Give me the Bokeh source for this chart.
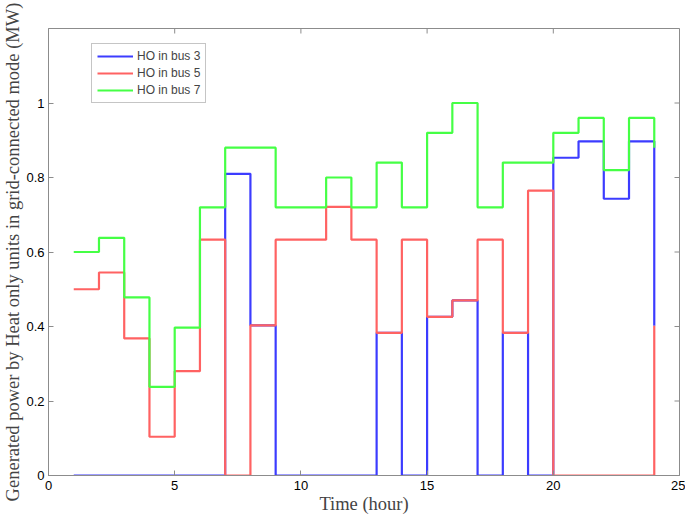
import math
from bokeh.plotting import figure
from bokeh.models import Range1d, FixedTicker, Legend, LegendItem
from bokeh.embed import file_html
from bokeh.resources import INLINE

hours = list(range(1, 25))
bus3 = [0, 0, 0, 0, 0, 0, 0.81, 0.403, 0, 0, 0, 0, 0.383, 0, 0.426, 0.47,
        0, 0.383, 0, 0.853, 0.897, 0.743, 0.897, 0.402]
bus5 = [0.5, 0.545, 0.368, 0.104, 0.28, 0.633, 0, 0.403, 0.633, 0.633, 0.721, 0.633,
        0.383, 0.633, 0.426, 0.47, 0.633, 0.383, 0.765, 0, 0, 0, 0, 0.402]
bus7 = [0.6, 0.638, 0.478, 0.238, 0.397, 0.72, 0.88, 0.88, 0.72, 0.72, 0.8, 0.72,
        0.84, 0.72, 0.92, 1.0, 0.72, 0.84, 0.84, 0.92, 0.96, 0.82, 0.96, 0.88]
series_names = ["HO in bus 3", "HO in bus 5", "HO in bus 7"]

x_ticks = [0, 5, 10, 15, 20, 25]
x_tick_labels = ["0", "5", "10", "15", "20", "25"]
y_ticks = [0, 0.2, 0.4, 0.6, 0.8, 1]
y_tick_labels = ["0", "0.2", "0.4", "0.6", "0.8", "1"]

SANS = "Liberation Sans"
SERIF = "Liberation Serif"
AX_COLOR = "#8c8c8c"

X0, X1, Y0, Y1 = 0, 25, 0, 1.2

p = figure(width=685, height=518, output_backend="svg", toolbar_location=None,
           x_range=Range1d(X0, X1), y_range=Range1d(Y0, Y1),
           min_border_left=48, min_border_right=6, min_border_top=28, min_border_bottom=43)
p.background_fill_color = "white"
p.border_fill_color = "white"
p.outline_line_color = AX_COLOR
p.xgrid.visible = False
p.ygrid.visible = False

def style_axis(ax, ticks, labels):
    ax.ticker = FixedTicker(ticks=ticks)
    ax.major_label_overrides = {t: l for t, l in zip(ticks, labels)}
    ax.axis_line_color = AX_COLOR
    ax.major_tick_line_color = AX_COLOR
    ax.major_tick_in = 5
    ax.major_tick_out = 0
    ax.minor_tick_line_color = None
    ax.major_label_text_font = SANS
    ax.major_label_text_color = "black"
    ax.major_label_text_font_size = "13px"

style_axis(p.xaxis[0], x_ticks, x_tick_labels)
style_axis(p.yaxis[0], y_ticks, y_tick_labels)
p.xaxis[0].major_label_standoff = 5
p.yaxis[0].major_label_standoff = 4

p.xaxis[0].axis_label = "Time (hour)"
p.xaxis[0].axis_label_text_font = SERIF
p.xaxis[0].axis_label_text_font_style = "normal"
p.xaxis[0].axis_label_text_font_size = "18.5px"
p.xaxis[0].axis_label_standoff = 1

p.yaxis[0].axis_label = "Generated power by Heat only units in grid-connected mode (MW)"
p.yaxis[0].axis_label_text_font = SERIF
p.yaxis[0].axis_label_text_font_style = "normal"
p.yaxis[0].axis_label_text_font_size = "18.5px"
p.yaxis[0].axis_label_standoff = 0

# inward ticks on the top and right edges of the box (half of each dash is clipped by the frame)
p.scatter(x=x_ticks, y=[Y1] * len(x_ticks), marker="dash", size=10, angle=math.pi / 2,
          line_color=AX_COLOR, line_width=1)
p.scatter(x=[X1] * len(y_ticks), y=y_ticks, marker="dash", size=10,
          line_color=AX_COLOR, line_width=1)

colors = ["#3c3cff", "#ff6262", "#45ff45"]
renderers = []
for data, c in zip([bus3, bus5, bus7], colors):
    r = p.step(hours, data, mode="after", line_color=c, line_width=2.2)
    renderers.append(r)

legend = Legend(items=[LegendItem(label=n, renderers=[r]) for n, r in zip(series_names, renderers)],
                location=(43, 372))
legend.label_text_font = SANS
legend.label_text_font_size = "12px"
legend.border_line_color = AX_COLOR
legend.background_fill_color = "white"
legend.background_fill_alpha = 1
legend.glyph_width = 36
legend.glyph_height = 14
legend.label_height = 14
legend.label_standoff = 4
legend.spacing = 3
legend.padding = 5
legend.margin = 0
p.add_layout(legend, "center")

open("out.html", "w").write(file_html(p, INLINE))
